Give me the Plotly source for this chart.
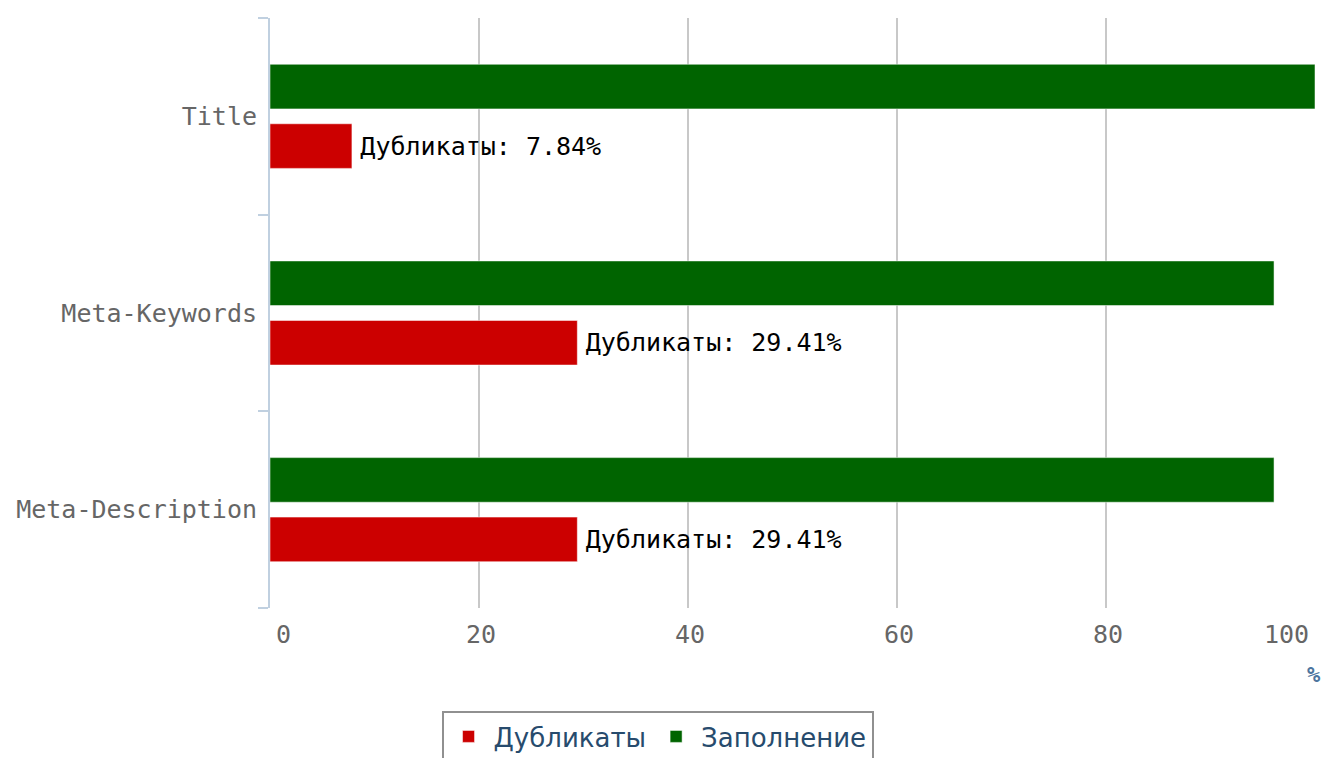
import plotly.graph_objects as go

categories = ["Title", "Meta-Keywords", "Meta-Description"]
duplicates = [7.84, 29.41, 29.41]
filled = [100, 96.08, 96.08]
x_ticks = [0, 20, 40, 60, 80, 100]
x_tick_labels = ["0", "20", "40", "60", "80", "100"]

MONO = "DejaVu Sans Mono"

fig = go.Figure()
fig.add_trace(go.Bar(
    name="Дубликаты", y=categories, x=duplicates, orientation="h",
    marker=dict(color="#CC0000", line=dict(color="rgba(255,255,255,0.5)", width=1)),
    texttemplate='<span style="font-size:9px"> </span>Дубликаты: %{x:.2f}%',
    textposition="outside",
    textfont=dict(family=MONO, size=25, color="#000000"),
    cliponaxis=False, hoverinfo="x+y",
))
fig.add_trace(go.Bar(
    name="Заполнение", y=categories, x=filled, orientation="h",
    marker=dict(color="#006400", line=dict(color="rgba(255,255,255,0.5)", width=1)),
    hoverinfo="x+y",
))

annotations = []
for v, t in zip(x_ticks, x_tick_labels):
    if v == x_ticks[0]:
        xa, xs = "left", 4
    elif v == x_ticks[-1]:
        xa, xs = "right", -4
    else:
        xa, xs = "center", 2
    annotations.append(dict(
        x=v, xref="x", y=0, yref="paper", yshift=-10, xshift=xs,
        text=t, showarrow=False, xanchor=xa, yanchor="top",
        font=dict(family=MONO, size=25, color="#666666"),
    ))
annotations.append(dict(
    x=1, xref="paper", y=0, yref="paper", yshift=-52, xshift=8,
    text="<b>%</b>", showarrow=False, xanchor="right", yanchor="top",
    font=dict(family=MONO, size=22, color="#4d759e"),
))

# page body has an 8px default margin: size and margins compensate for it
fig.update_layout(
    width=1321, height=750,
    margin=dict(l=262, r=14, t=10, b=150),
    paper_bgcolor="white", plot_bgcolor="white",
    barmode="group", bargap=0.395, bargroupgap=0.25,
    showlegend=True,
    legend=dict(
        orientation="h", xref="container", yref="container",
        x=0.4917, xanchor="center", y=1 - 703 / 750, yanchor="top",
        bordercolor="#909090", borderwidth=2, bgcolor="white",
        font=dict(family="DejaVu Sans", size=26, color="#274b6d"),
        traceorder="normal", itemwidth=40,
    ),
    annotations=annotations,
    xaxis=dict(
        range=[0, 100], tickvals=x_ticks, showticklabels=False,
        showgrid=True, gridcolor="#C8C8C8", gridwidth=1.5,
        zeroline=False, showline=False, ticks="", automargin=False,
    ),
    yaxis=dict(
        categoryorder="array", categoryarray=categories[::-1],
        showline=True, linecolor="#C0D0E0", linewidth=2,
        ticks="outside", tickson="boundaries", ticklen=10, tickwidth=2,
        tickcolor="#C0D0E0", showgrid=False, zeroline=False,
        tickfont=dict(family=MONO, size=25, color="#666666"),
        ticklabelstandoff=6, automargin=False,
    ),
)

fig.write_html("out.html")
